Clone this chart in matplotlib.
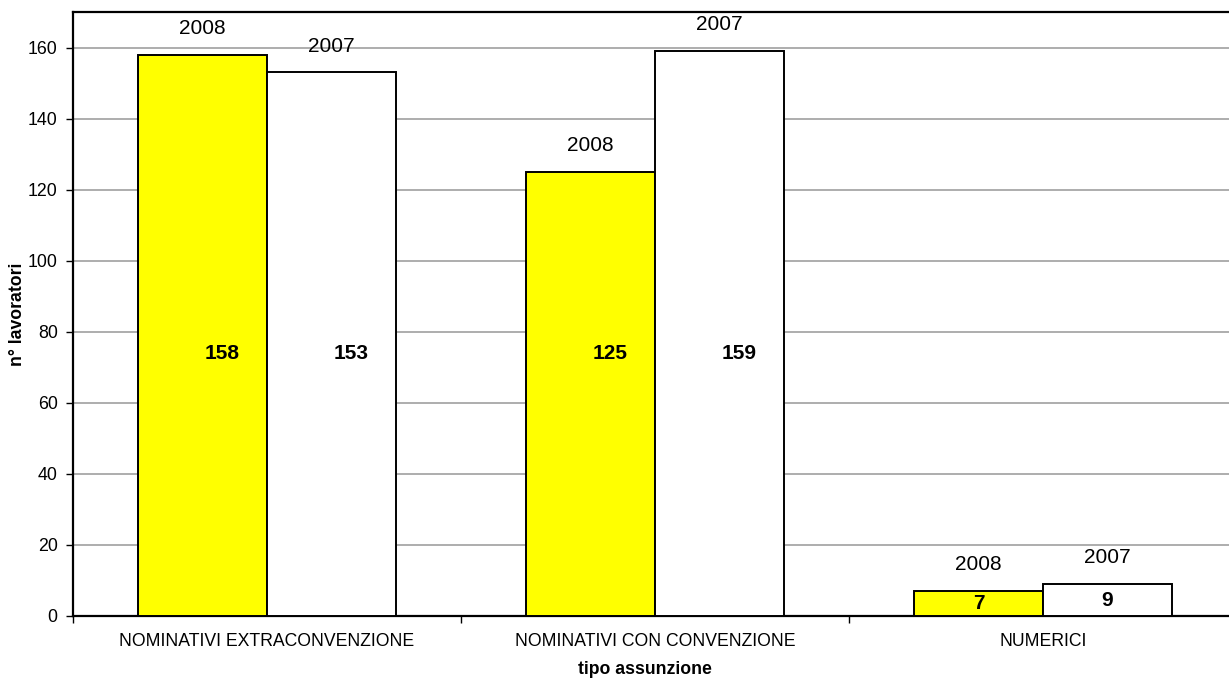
import numpy as np
import matplotlib
matplotlib.use('Agg')
import matplotlib.pyplot as plt
from matplotlib.ticker import FixedLocator, NullFormatter

plt.rcParams['font.family'] = ['Liberation Sans', 'DejaVu Sans']

categories = ['NOMINATIVI EXTRACONVENZIONE', 'NOMINATIVI CON CONVENZIONE', 'NUMERICI']
years = ['2008', '2007']
values_2008 = [158, 125, 7]
values_2007 = [153, 159, 9]
colors = ['#ffff00', '#ffffff']

fig = plt.figure(figsize=(12.29, 6.81), dpi=100)
ax = fig.add_axes([73 / 1229, 65 / 681, 1164 / 1229, 604 / 681])

x = np.arange(len(categories))
w = 129 / 388

for k, (vals, year) in enumerate([(values_2008, years[0]), (values_2007, years[1])]):
    pos = x + (k - 0.5) * w
    ax.bar(pos, vals, width=w, color=colors[k], edgecolor='black', linewidth=1.4, zorder=3)
    for p, v in zip(pos, vals):
        # year above the bar
        ax.annotate(year, (p, v), xytext=(0, 19), textcoords='offset points',
                    ha='center', va='center', fontsize=15)
        # value inside the bar
        ly = 74 if v > 20 else v / 2
        dx = 0.05 if v > 20 else 0
        ax.text(p + dx, ly, str(v), ha='center', va='center', fontsize=15, fontweight='bold', zorder=4)

ax.set_xlim(-0.5, 2.5)
ax.set_ylim(0, 170)
ax.set_yticks(range(0, 161, 20))
ax.yaxis.grid(True, color='#a0a0a0', linewidth=1.2, zorder=0)
ax.tick_params(axis='y', labelsize=12.8, length=5, width=1, direction='out', pad=6)

ax.set_xticks(x)
ax.set_xticklabels(categories, fontsize=12.7)
ax.tick_params(axis='x', which='major', length=0, pad=12)
ax.xaxis.set_minor_locator(FixedLocator([-0.5, 0.5, 1.5, 2.5]))
ax.xaxis.set_minor_formatter(NullFormatter())
ax.tick_params(axis='x', which='minor', length=5, width=1, direction='out')

for s in ['left', 'bottom', 'top']:
    ax.spines[s].set_linewidth(1.6)
    ax.spines[s].set_color('black')
ax.spines['right'].set_visible(False)

ax.set_xlabel('tipo assunzione', fontsize=12.7, fontweight='bold', va='center')
ax.xaxis.set_label_coords((645 - 73) / 1164, -(669 - 616) / 604)
ax.set_ylabel('n° lavoratori', fontsize=12.7, fontweight='bold', va='center')
ax.yaxis.set_label_coords(-(73 - 18) / 1164, 0.5)

fig.savefig('out.png', dpi=100)
